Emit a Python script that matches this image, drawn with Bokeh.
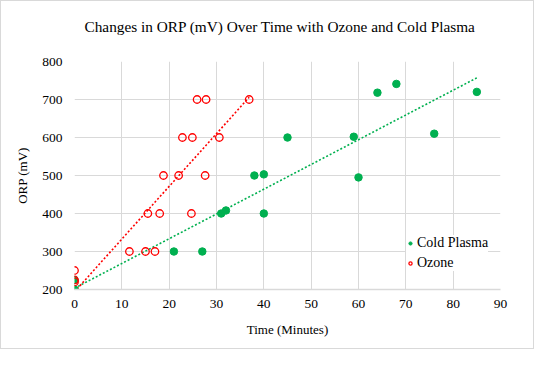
import numpy as np
from bokeh.plotting import figure
from bokeh.models import FixedTicker, Range1d, Legend, LegendItem, Title
from bokeh.embed import file_html
from bokeh.resources import INLINE

# ---- data ----
plasma_time = [0, 0, 21, 27, 31, 32, 40, 38, 40, 45, 59, 60, 64, 68, 76, 85]
plasma_orp = [200, 225, 300, 300, 400, 408, 400, 500, 503, 600, 602, 495, 718, 741, 610, 720]

ozone_time = [0, 0, 0, 11.6, 15, 17, 15.5, 18, 24.7, 18.8, 22, 27.6, 22.8, 24.9, 30.6, 25.9, 27.8, 36.9]
ozone_orp = [250, 225, 220, 300, 300, 300, 400, 400, 400, 500, 500, 500, 600, 600, 600, 700, 700, 700]

x_ticks = [0, 10, 20, 30, 40, 50, 60, 70, 80, 90]
y_ticks = [200, 300, 400, 500, 600, 700, 800]

GREEN = "#00B050"
RED = "#FF0000"
GRID = "#D9D9D9"
FONT = "Times New Roman"

p = figure(width=534, height=349, output_backend="svg", toolbar_location=None,
           x_range=Range1d(0, 90), y_range=Range1d(200, 800),
           min_border_left=73, min_border_right=35, min_border_top=60, min_border_bottom=61,
           title=None)
p.outline_line_color = None
p.background_fill_color = "white"
p.border_fill_color = "white"
p.styles = {"border": "1px solid #D9D9D9"}

spacer = Title(text=" ", text_font_size="9px")
p.add_layout(spacer, "above")
main_title = Title(text="Changes in ORP (mV) Over Time with Ozone and Cold Plasma",
                   align="left", offset=10, text_font=FONT, text_font_size="15.3px",
                   text_font_style="normal", text_color="#000000")
p.add_layout(main_title, "above")

for ax in (p.xaxis[0], p.yaxis[0]):
    ax.major_tick_line_color = None
    ax.minor_tick_line_color = None
    ax.major_label_text_font = FONT
    ax.major_label_text_font_size = "13.5px"
    ax.major_label_text_color = "#000000"
    ax.axis_label_text_font = FONT
    ax.axis_label_text_font_size = "13px"
    ax.axis_label_text_font_style = "normal"
    ax.axis_label_text_color = "#000000"

p.xaxis.ticker = FixedTicker(ticks=x_ticks)
p.yaxis.ticker = FixedTicker(ticks=y_ticks)
p.xaxis.axis_label = "Time (Minutes)"
p.yaxis.axis_label = "ORP (mV)"
p.xaxis.axis_line_color = GRID
p.xaxis.axis_line_width = 1.5
p.yaxis.axis_line_color = None
p.xaxis.major_label_standoff = 4
p.yaxis.major_label_standoff = 6
p.xaxis.axis_label_standoff = 11
p.yaxis.axis_label_standoff = 9

p.xgrid.ticker = FixedTicker(ticks=x_ticks)
p.ygrid.ticker = FixedTicker(ticks=y_ticks)
p.grid.grid_line_color = GRID
p.grid.grid_line_width = 1

# trendlines (least squares)
for xs, ys, col in ((plasma_time, plasma_orp, GREEN), (ozone_time, ozone_orp, RED)):
    m, b = np.polyfit(xs, ys, 1)
    x0, x1 = 0, max(xs)
    p.line([x0, x1], [b + m * x0, b + m * x1], line_color=col, line_width=1.6, line_dash="2 2")

r_p = p.scatter(plasma_time, plasma_orp, size=7.5, fill_color=GREEN, line_color=GREEN)
r_o = p.scatter(ozone_time, ozone_orp, size=7.5, fill_color="white", fill_alpha=0,
                line_color=RED, line_width=1.3)

legend = Legend(items=[LegendItem(label="Cold Plasma", renderers=[r_p]),
                       LegendItem(label="Ozone", renderers=[r_o])],
                location=(332, 18))
legend.label_text_font = FONT
legend.label_text_font_size = "14px"
legend.label_text_color = "#000000"
legend.glyph_width = 8
legend.glyph_height = 14
legend.label_standoff = 3
legend.spacing = 4
legend.padding = 4
legend.margin = 0
legend.border_line_color = None
legend.background_fill_color = "white"
legend.background_fill_alpha = 1
p.add_layout(legend, "center")

open("out.html", "w").write(file_html(p, INLINE))
